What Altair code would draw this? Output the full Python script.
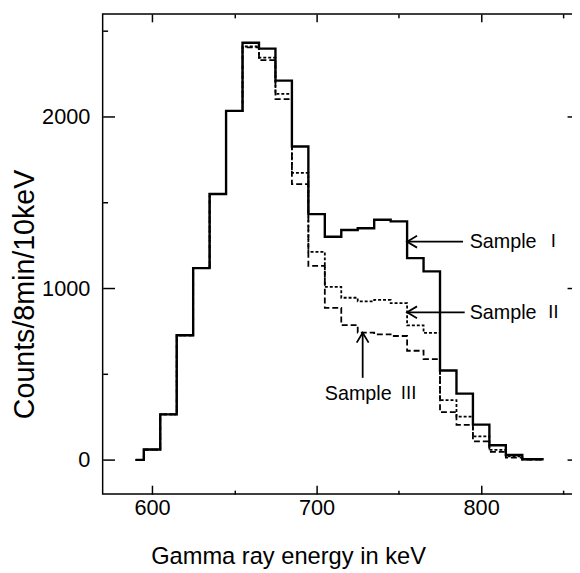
import altair as alt
import pandas as pd

# ---- data ----
bin_edges = [590, 595, 605, 615, 625, 635, 645, 655, 665, 675, 685, 695, 705,
             715, 725, 735, 745, 755, 765, 775, 785, 795, 805, 815, 825, 838]
sample_1 = [0, 60, 265, 726, 1118, 1550, 2035, 2432, 2398, 2211, 1827, 1433, 1301,
            1340, 1350, 1400, 1390, 1176, 1099, 521, 386, 205, 85, 28, 3]
sample_2 = [0, 60, 265, 726, 1118, 1550, 2035, 2410, 2345, 2134, 1673, 1212, 1008,
            945, 924, 932, 913, 784, 740, 348, 252, 137, 58, 20, 2]
sample_3 = [0, 60, 265, 726, 1118, 1550, 2035, 2405, 2330, 2103, 1607, 1131, 886,
            786, 742, 732, 722, 636, 587, 278, 204, 108, 46, 13, 1]

label_word = ["Sample", "Sample", "Sample"]
label_numeral = ["\u2160", "\u2161", "\u2162"]
label_x = [793, 793, 705]
label_y = [1268, 858, 386]

arrow_tail_x = [789, 790, 728]
arrow_tail_y = [1272, 860, 478]
arrow_tip_x = [755, 755, 728]
arrow_tip_y = [1272, 860, 741]
arrow_dir = ["left", "left", "up"]

x_major = [600, 700, 800]
x_minor = [650, 750, 850]
y_major = [0, 1000, 2000]
y_minor = [500, 1500, 2500]

rows = []
for name, vals in [("I", sample_1), ("II", sample_2), ("III", sample_3)]:
    for i, e in enumerate(bin_edges):
        rows.append({"sample": name, "energy": e, "counts": vals[min(i, len(vals) - 1)]})
df = pd.DataFrame(rows)

df_lab = pd.DataFrame({"x": label_x, "y": label_y, "word": label_word, "num": label_numeral})
df_arr = pd.DataFrame({"xt": arrow_tail_x, "yt": arrow_tail_y,
                       "xh": arrow_tip_x, "yh": arrow_tip_y, "dir": arrow_dir})

FONT = "Liberation Sans"
xs = alt.Scale(domain=[570, 857], nice=False, zero=False)
ys = alt.Scale(domain=[-200, 2600], nice=False, zero=False)

common = dict(tickColor="black", tickWidth=1.5, domain=False, grid=False)

x_bottom = alt.Axis(orient="bottom", values=x_major, format="d", offset=-9, tickSize=9,
                    labelFont=FONT, labelFontSize=22, labelColor="black", labelPadding=4,
                    title="Gamma ray energy in keV", titleFont=FONT, titleFontSize=24,
                    titleFontWeight="normal", titleColor="black",
                    titleX=188, titleY=79, titleAlign="center", titleBaseline="alphabetic",
                    **common)
x_bottom_minor = alt.Axis(orient="bottom", values=x_minor, offset=-4, tickSize=4,
                          labels=False, title=None, **common)
y_left = alt.Axis(orient="left", values=y_major, format="d", offset=-12, tickSize=12,
                  labelFont=FONT, labelFontSize=22, labelColor="black", labelPadding=13,
                  title="Counts/8min/10keV", titleFont=FONT, titleFontSize=29,
                  titleFontWeight="normal", titleColor="black", titleAngle=270,
                  titleX=-82, titleY=284, titleAlign="center", titleBaseline="alphabetic",
                  **common)
y_left_minor = alt.Axis(orient="left", values=y_minor, offset=-5, tickSize=5,
                        labels=False, title=None, **common)
x_top = alt.Axis(orient="top", values=x_major, offset=-8, tickSize=8, labels=False, title=None, **common)
x_top_minor = alt.Axis(orient="top", values=x_minor, offset=-4, tickSize=4, labels=False, title=None, **common)
y_right = alt.Axis(orient="right", values=y_major, offset=-8, tickSize=8, labels=False, title=None, **common)

base = alt.Chart(df)

l3 = base.transform_filter(alt.datum.sample == "III").mark_line(
    interpolate="step-after", color="black", strokeWidth=1.8, strokeDash=[6, 3]
).encode(x=alt.X("energy:Q", scale=xs, axis=None), y=alt.Y("counts:Q", scale=ys, axis=None))

l2 = base.transform_filter(alt.datum.sample == "II").mark_line(
    interpolate="step-after", color="black", strokeWidth=1.8, strokeDash=[3, 2]
).encode(x=alt.X("energy:Q", scale=xs, axis=x_bottom_minor),
         y=alt.Y("counts:Q", scale=ys, axis=y_left_minor))

l1 = base.transform_filter(alt.datum.sample == "I").mark_line(
    interpolate="step-after", color="black", strokeWidth=2.4
).encode(x=alt.X("energy:Q", scale=xs, axis=x_bottom), y=alt.Y("counts:Q", scale=ys, axis=y_left))

arrows = alt.Chart(df_arr).mark_rule(color="black", strokeWidth=1.8).encode(
    x=alt.X("xt:Q", scale=xs, axis=x_top), x2="xh:Q",
    y=alt.Y("yt:Q", scale=ys, axis=y_right), y2="yh:Q")

path_left = "M 1.5 -0.9 L 0 0 L 1.5 0.9"
path_up = "M -0.9 1.5 L 0 0 L 0.9 1.5"
heads = alt.Chart(df_arr).mark_point(filled=False, color="black", strokeWidth=1.8, size=180, opacity=1).encode(
    x=alt.X("xh:Q", scale=xs, axis=x_top_minor), y=alt.Y("yh:Q", scale=ys, axis=None),
    shape=alt.Shape("dir:N", scale=alt.Scale(domain=["left", "up"], range=[path_left, path_up]), legend=None))

words = alt.Chart(df_lab).mark_text(align="left", baseline="middle", font=FONT, fontSize=20, color="black").encode(
    x=alt.X("x:Q", scale=xs, axis=None), y=alt.Y("y:Q", scale=ys, axis=None), text="word:N")
numerals = alt.Chart(df_lab).mark_text(align="left", baseline="middle", dx=76, font="Noto Sans CJK JP",
                                       fontSize=18, color="black").encode(
    x=alt.X("x:Q", scale=xs, axis=None), y=alt.Y("y:Q", scale=ys, axis=None), text="num:N")

chart = alt.layer(l3, l2, l1, arrows, heads, words, numerals).resolve_axis(
    x="independent", y="independent"
).properties(
    width=479, height=487,
    autosize=alt.AutoSizeParams(type="none"),
    padding={"left": 96, "top": 2, "right": -3, "bottom": 76},
    background="white",
).configure_view(stroke="black", strokeWidth=1.5)

chart.save("out.html", embed_options={"renderer": "svg", "actions": False})
